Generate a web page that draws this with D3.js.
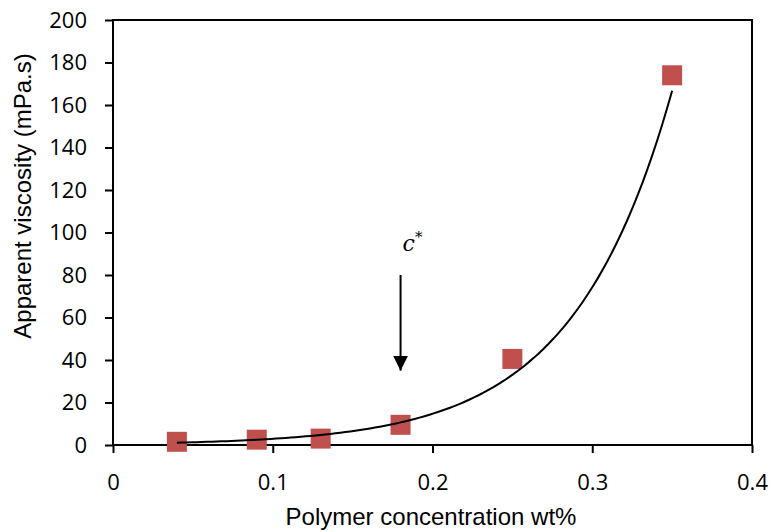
<!DOCTYPE html>
<html>
<head>
<meta charset="utf-8">
<script src="https://cdn.jsdelivr.net/npm/d3@7"></script>
<style>
  body { margin: 0; background: #fff; }
  .tick text { font-family: "Open Sans", sans-serif; font-size: 22px; fill: #000; }
</style>
</head>
<body>
<script>
var concentration = [0.04, 0.09, 0.13, 0.18, 0.25, 0.35];
var viscosity = [1.5, 2.5, 3.0, 9.5, 40.5, 174];
var xTicks = [0, 0.1, 0.2, 0.3, 0.4];
var yTicks = [0, 20, 40, 60, 80, 100, 120, 140, 160, 180, 200];
// c* marker: arrow from 80 down to 35 at x = 0.18, label at 92
var cStar = [0.18, 80, 35, 92];

(function() {
var width = 770, height = 532;
var mLeft = 113, mRight = 752, mTop = 20, mBottom = 445;

var svg = d3.select('body').append('svg')
    .attr('width', width)
    .attr('height', height);

var x = d3.scaleLinear().domain([0, 0.4]).range([mLeft, mRight]);
var y = d3.scaleLinear().domain([0, 200]).range([mBottom, mTop]);

// frame
svg.append('rect')
    .attr('x', mLeft).attr('y', mTop)
    .attr('width', mRight - mLeft).attr('height', mBottom - mTop)
    .attr('fill', 'none').attr('stroke', '#000').attr('stroke-width', 2);

var xAxis = d3.axisBottom(x).tickValues(xTicks).tickSize(8).tickPadding(21)
    .tickFormat(function(d) { return d === 0 ? '0' : d3.format('.1f')(d); });
var yAxis = d3.axisLeft(y).tickValues(yTicks).tickSize(8).tickPadding(18)
    .tickFormat(d3.format('d'));

svg.append('g').attr('transform', 'translate(0,' + mBottom + ')').call(xAxis)
    .call(function(g) { g.select('.domain').remove(); })
    .selectAll('line').attr('stroke-width', 2);
svg.append('g').attr('transform', 'translate(' + mLeft + ',0)').call(yAxis)
    .call(function(g) { g.select('.domain').remove(); })
    .selectAll('line').attr('stroke-width', 2);

// exponential trendline fitted to the points (least squares on ln y)
var n = concentration.length;
var mx = d3.mean(concentration);
var ly = viscosity.map(function(v) { return Math.log(v); });
var my = d3.mean(ly);
var sxy = 0, sxx = 0;
for (var i = 0; i < n; i++) {
    sxy += (concentration[i] - mx) * (ly[i] - my);
    sxx += (concentration[i] - mx) * (concentration[i] - mx);
}
var b = sxy / sxx;
var a = Math.exp(my - b * mx);
var xs = d3.range(0, 101).map(function(k) {
    return concentration[0] + (concentration[n - 1] - concentration[0]) * k / 100;
});

// markers
svg.selectAll('rect.pt').data(concentration).enter().append('rect')
    .attr('class', 'pt')
    .attr('x', function(d) { return x(d) - 10; })
    .attr('y', function(d, i) { return y(viscosity[i]) - 10; })
    .attr('width', 20).attr('height', 20)
    .attr('fill', '#c0504d');

var line = d3.line()
    .x(function(d) { return x(d); })
    .y(function(d) { return y(a * Math.exp(b * d)); });
svg.append('path').attr('d', line(xs))
    .attr('fill', 'none').attr('stroke', '#000').attr('stroke-width', 2);

// c* arrow
svg.append('defs').append('marker')
    .attr('id', 'arrow').attr('viewBox', '0 0 16 15')
    .attr('refX', 15).attr('refY', 7.5)
    .attr('markerWidth', 16).attr('markerHeight', 15)
    .attr('markerUnits', 'userSpaceOnUse')
    .attr('orient', 'auto')
    .append('path').attr('d', 'M0,0L15,7.5L0,15Z').attr('fill', '#000');
svg.append('line')
    .attr('x1', x(cStar[0])).attr('x2', x(cStar[0]))
    .attr('y1', y(cStar[1])).attr('y2', y(cStar[2]))
    .attr('stroke', '#000').attr('stroke-width', 2)
    .attr('marker-end', 'url(#arrow)');
var lab = svg.append('text')
    .attr('x', x(cStar[0]) + 2)
    .attr('y', y(cStar[3]) + 1)
    .attr('font-family', '"DejaVu Serif", serif')
    .attr('font-style', 'italic')
    .attr('font-size', 22);
lab.append('tspan').text('c');
lab.append('tspan').attr('dy', -9).attr('font-size', 15).text('*');

// axis titles
svg.append('text')
    .attr('x', 431)
    .attr('y', 525)
    .attr('text-anchor', 'middle')
    .attr('font-family', '"Liberation Sans", Arial, sans-serif')
    .attr('font-size', 24)
    .text('Polymer concentration wt%');
svg.append('text')
    .attr('transform', 'translate(31,196) rotate(-90)')
    .attr('text-anchor', 'middle')
    .attr('font-family', '"Liberation Sans", Arial, sans-serif')
    .attr('font-size', 24)
    .text('Apparent viscosity (mPa.s)');
})();
</script>
</body>
</html>
